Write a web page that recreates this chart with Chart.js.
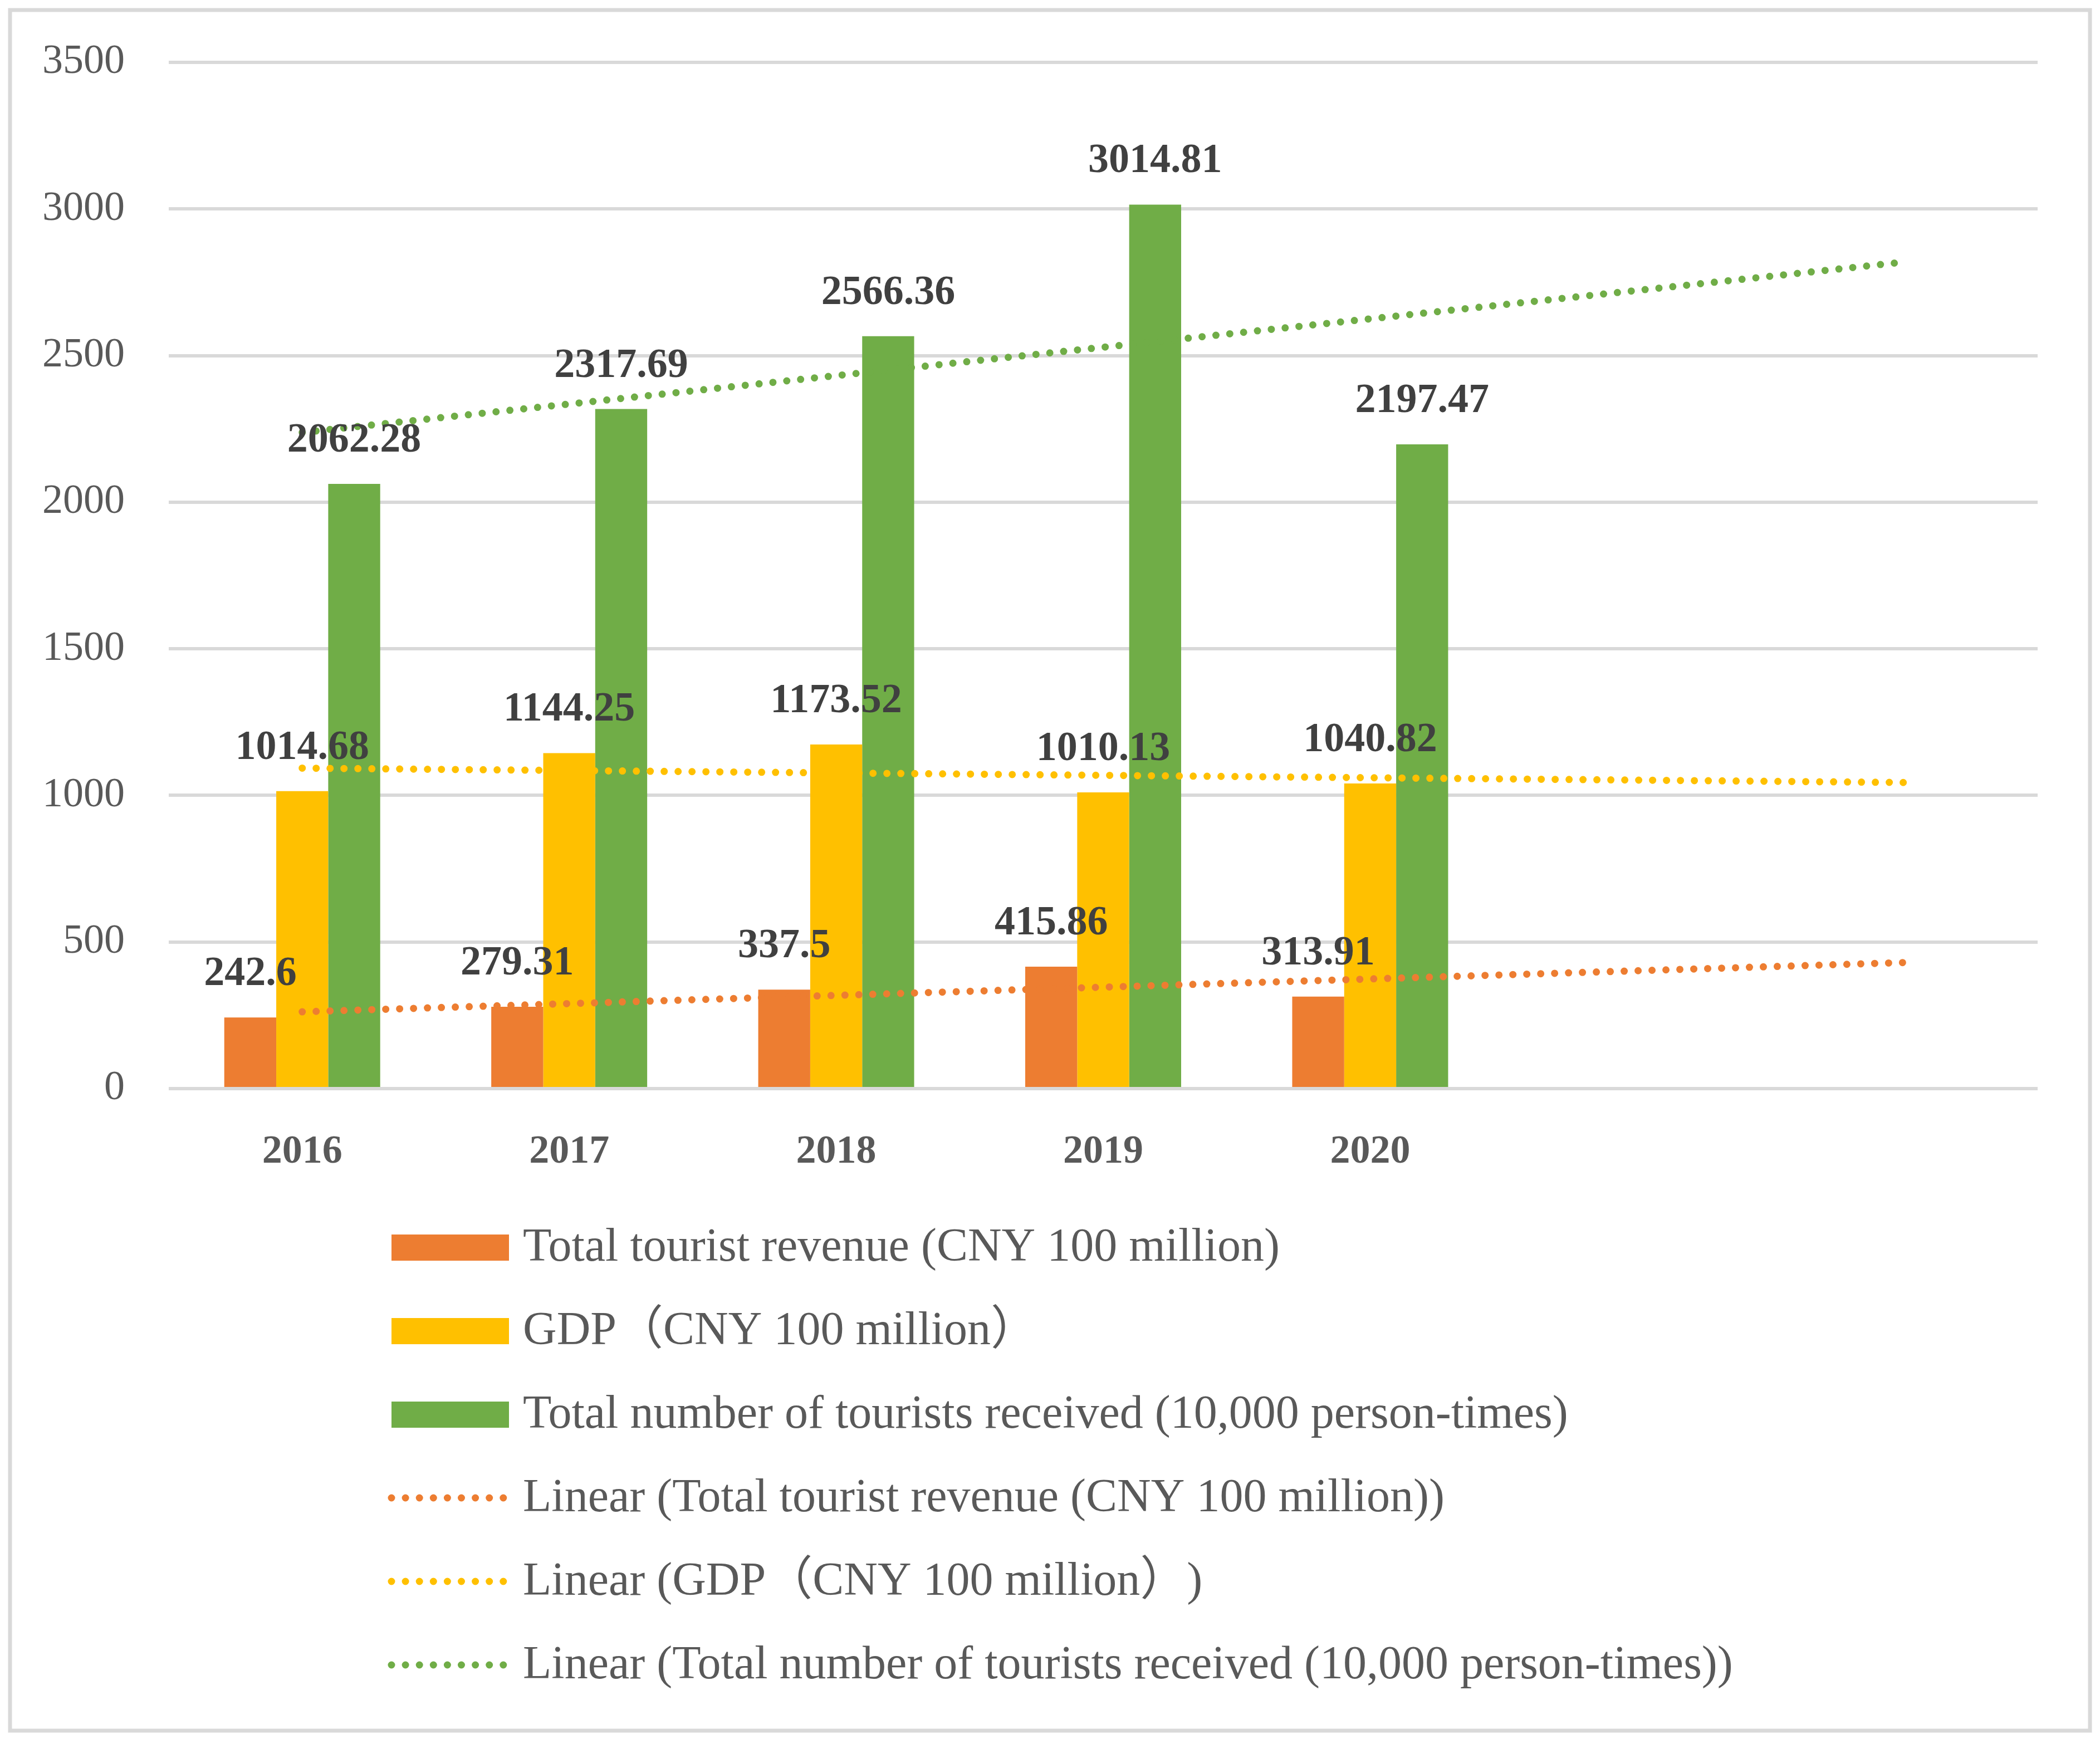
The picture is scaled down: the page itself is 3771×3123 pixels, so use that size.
<!DOCTYPE html>
<html>
<head>
<meta charset="utf-8">
<script src="https://cdn.jsdelivr.net/npm/chart.js@4.4.1/dist/chart.umd.min.js"></script>
<style>
  html, body { margin: 0; padding: 0; background: #fff; }
  #wrap { width: 3771px; height: 3123px; }
</style>
</head>
<body>
<div id="wrap"><canvas id="chart"></canvas></div>
<script>
const years = ['2016', '2017', '2018', '2019', '2020', '', ''];
const revenue = [242.6, 279.31, 337.5, 415.86, 313.91];
const gdp = [1014.68, 1144.25, 1173.52, 1010.13, 1040.82];
const tourists = [2062.28, 2317.69, 2566.36, 3014.81, 2197.47];
// trend line ends (2016 and two periods past 2020)
const revenueTrend = [262, null, null, null, null, null, 430];
const gdpTrend = [1093, null, null, null, null, null, 1044];
const touristsTrend = [2238, null, null, null, null, null, 2819];
const yMax = 3500;
const yStep = 500;

const orange = '#ED7D31';
const yellow = '#FFC000';
const green = '#70AD47';
const serif = '"Liberation Serif", "Noto Sans CJK SC", serif';

const frame = {
  id: 'frame',
  beforeDraw(chart) {
    const ctx = chart.ctx;
    ctx.save();
    ctx.fillStyle = '#fff';
    ctx.fillRect(0, 0, chart.width, chart.height);
    ctx.strokeStyle = '#D9D9D9';
    ctx.lineWidth = 7;
    ctx.strokeRect(18, 18, chart.width - 36, chart.height - 33);
    ctx.restore();
  }
};

const barLabels = {
  id: 'barLabels',
  afterDatasetsDraw(chart) {
    const ctx = chart.ctx;
    ctx.save();
    ctx.font = 'bold 74px ' + serif;
    ctx.fillStyle = '#404040';
    ctx.textAlign = 'center';
    ctx.textBaseline = 'alphabetic';
    chart.data.datasets.forEach((ds, i) => {
      if (ds.type !== 'bar') return;
      chart.getDatasetMeta(i).data.forEach((bar, j) => {
        if (ds.data[j] == null) return;
        ctx.fillText(String(ds.data[j]), bar.x, bar.y - 58);
      });
    });
    ctx.restore();
  }
};

const legendList = {
  id: 'legendList',
  afterDraw(chart) {
    const ctx = chart.ctx;
    ctx.save();
    ctx.font = '84px ' + serif;
    ctx.textAlign = 'left';
    ctx.textBaseline = 'alphabetic';
    chart.data.datasets.forEach((ds, i) => {
      const y = 2240 + i * 150;
      if (ds.type === 'bar') {
        ctx.fillStyle = ds.backgroundColor;
        ctx.fillRect(703, y - 23, 211, 47);
      } else {
        ctx.strokeStyle = ds.borderColor;
        ctx.lineWidth = 13;
        ctx.lineCap = 'round';
        ctx.setLineDash([0, 25.1]);
        ctx.beginPath();
        ctx.moveTo(703, y);
        ctx.lineTo(905, y);
        ctx.stroke();
        ctx.setLineDash([]);
      }
      ctx.fillStyle = '#595959';
      ctx.fillText(ds.label, 939, y + 24);
    });
    ctx.restore();
  }
};

function trend(label, data, color) {
  return {
    type: 'line',
    label: label,
    data: data,
    borderColor: color,
    borderWidth: 13,
    borderDash: [0, 25],
    borderCapStyle: 'round',
    pointRadius: 0,
    spanGaps: true,
    fill: false,
    order: 0
  };
}

new Chart(document.getElementById('chart'), {
  type: 'bar',
  data: {
    labels: years,
    datasets: [
      { type: 'bar', label: 'Total tourist revenue (CNY 100 million)', data: revenue, backgroundColor: orange, order: 1 },
      { type: 'bar', label: 'GDP（CNY 100 million）', data: gdp, backgroundColor: yellow, order: 1 },
      { type: 'bar', label: 'Total number of tourists received (10,000 person-times)', data: tourists, backgroundColor: green, order: 1 },
      trend('Linear (Total tourist revenue (CNY 100 million))', revenueTrend, orange),
      trend('Linear (GDP（CNY 100 million）)', gdpTrend, yellow),
      trend('Linear (Total number of tourists received (10,000 person-times))', touristsTrend, green)
    ]
  },
  options: {
    responsive: true,
    maintainAspectRatio: false,
    animation: false,
    devicePixelRatio: 1,
    layout: { padding: { top: 112, right: 112, bottom: 0, left: 0 } },
    datasets: {
      bar: { barPercentage: 1, categoryPercentage: 0.584 }
    },
    plugins: {
      legend: { display: false },
      tooltip: { enabled: false }
    },
    scales: {
      x: {
        grid: { display: false },
        border: { display: false },
        ticks: { color: '#595959', font: { family: serif, size: 72, weight: 'bold' }, padding: 63, maxRotation: 0, autoSkip: false },
        afterFit(scale) { scale.height = 3123 - 1955; }
      },
      y: {
        min: 0,
        max: yMax,
        ticks: {
          stepSize: yStep,
          color: '#595959',
          font: { family: serif, size: 74 },
          padding: 79,
          callback: (v) => String(v)
        },
        grid: { color: '#D9D9D9', lineWidth: 6, drawTicks: false },
        border: { display: false },
        afterFit(scale) {
          scale.width = 303;
          scale.paddingTop = 0;
          scale.paddingBottom = 0;
        }
      }
    }
  },
  plugins: [frame, barLabels, legendList]
});
</script>
</body>
</html>
